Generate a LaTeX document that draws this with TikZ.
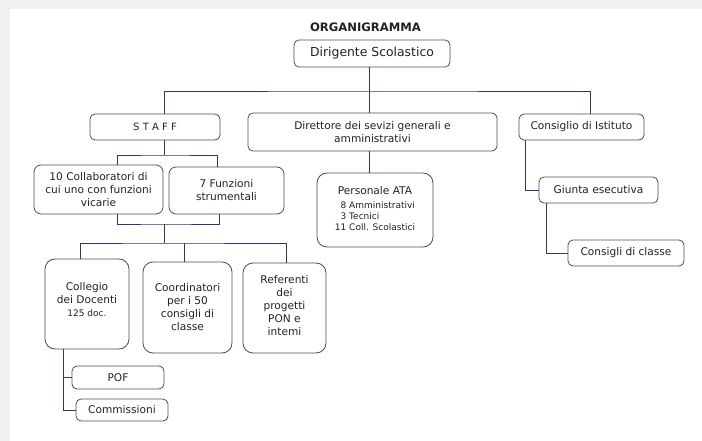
\documentclass[tikz,border=0pt]{standalone}
\usepackage{fontspec}
\setmainfont{DejaVu Sans}
\definecolor{bggray}{HTML}{F0F0F0}
\definecolor{boxgray}{HTML}{4D4D4D}
\definecolor{linecol}{HTML}{34346E}
\definecolor{txt}{HTML}{222222}
\begin{document}
\begin{tikzpicture}[x=1pt,y=-1pt,
  box/.style={draw=boxgray, line width=0.8pt, rounded corners=5pt, fill=white, align=center, inner sep=2pt, text=txt, font=\fontsize{10.6}{13}\selectfont},
  tallbox/.style={box, rounded corners=10pt},
  conn/.style={draw=linecol, line width=0.9pt}]
\fill[bggray] (0,0) rectangle (702,441);
\fill[white] (10,9) rectangle (702,441);
\useasboundingbox (0,0) rectangle (702,441);

\node[font=\bfseries\fontsize{11.6}{14}\selectfont, text=txt] (title) at (365.5,27) {ORGANIGRAMMA};

\node[box, minimum width=156pt, minimum height=27pt, font=\fontsize{12.4}{15}\selectfont] (dir) at (372,53.5) {Dirigente Scolastico};
\node[box, minimum width=130pt, minimum height=26pt, font=\fontsize{10}{12}\selectfont] (staff) at (155,127) {S T A F F};
\node[box, minimum width=249pt, minimum height=38pt] (direttore) at (372.5,132) {Direttore dei sevizi generali e\\amministrativi};
\node[box, minimum width=125pt, minimum height=26pt] (consiglio) at (581.5,127) {Consiglio di Istituto};

\node[box, minimum width=129pt, minimum height=49pt, rounded corners=7pt] (collab) at (98.5,189.5) {10 Collaboratori di\\cui uno con funzioni\\vicarie};
\node[box, minimum width=115pt, minimum height=47pt, rounded corners=7pt] (funzioni) at (226.5,190.5) {7 Funzioni\\strumentali};
\node[tallbox, minimum width=116pt, minimum height=74pt] (personale) at (375,210) {Personale ATA\\[5pt]{\fontsize{9}{11}\selectfont\begin{tabular}{@{}r@{ }l@{}}8&Amministrativi\\3&Tecnici\\11&Coll. Scolastici\end{tabular}}};
\node[box, minimum width=119pt, minimum height=26pt] (giunta) at (598.5,190) {Giunta esecutiva};
\node[box, minimum width=116pt, minimum height=26pt] (consigli) at (626,253) {Consigli di classe};

\node[tallbox, minimum width=84pt, minimum height=90pt] (collegio) at (87,304) {Collegio\\dei Docenti\\{\fontsize{9}{11}\selectfont 125 doc.}\\[-3pt]};
\node[tallbox, minimum width=89pt, minimum height=91pt] (coord) at (187.5,307.5) {Coordinatori\\per i 50\\consigli di\\classe};
\node[tallbox, minimum width=83pt, minimum height=90pt] (referenti) at (284.5,308) {Referenti\\dei\\progetti\\PON e\\intemi\\[-7pt]};
\node[box, minimum width=92pt, minimum height=23pt] (pof) at (118,377.5) {POF};
\node[box, minimum width=92pt, minimum height=22pt] (commissioni) at (122,410) {Commissioni};

% connectors
\coordinate (j0) at (369,91);
\draw[conn] (dir.south -| j0) -- (j0);
\draw[conn] ([xshift=9pt]staff.north) |- (j0) -| ([xshift=8.5pt]consiglio.north);
\draw[conn] (j0) -- (direttore.north -| j0);
\draw[conn] (direttore.south -| j0) -- (personale.north -| j0);

\coordinate (j1) at (164,155);
\draw[conn] (staff.south -| j1) -- (j1);
\draw[conn] ([xshift=18.5pt]collab.north) |- (j1) -| ([xshift=-9.5pt]funzioni.north);

\coordinate (j2) at (164,224);
\coordinate (j3) at (164,243);
\draw[conn] ([xshift=18.5pt]collab.south) |- (j2) -| ([xshift=-7.5pt]funzioni.south);
\draw[conn] (j2) -- (j3);
\draw[conn] ([xshift=-7pt]collegio.north) |- (j3) -| ([xshift=1.5pt]referenti.north);
\draw[conn] ([xshift=-3.5pt]coord.north) -- ([xshift=-3.5pt]coord.north |- j3);

\draw[conn] ([xshift=-56.5pt]consiglio.south) |- (giunta.west);
\draw[conn] ([xshift=-52.5pt]giunta.south) |- (consigli.west);

\draw[conn] ([xshift=-24pt]collegio.south) |- (pof.west);
\draw[conn] ([xshift=-24pt]collegio.south) |- (commissioni.west);
\end{tikzpicture}
\end{document}
